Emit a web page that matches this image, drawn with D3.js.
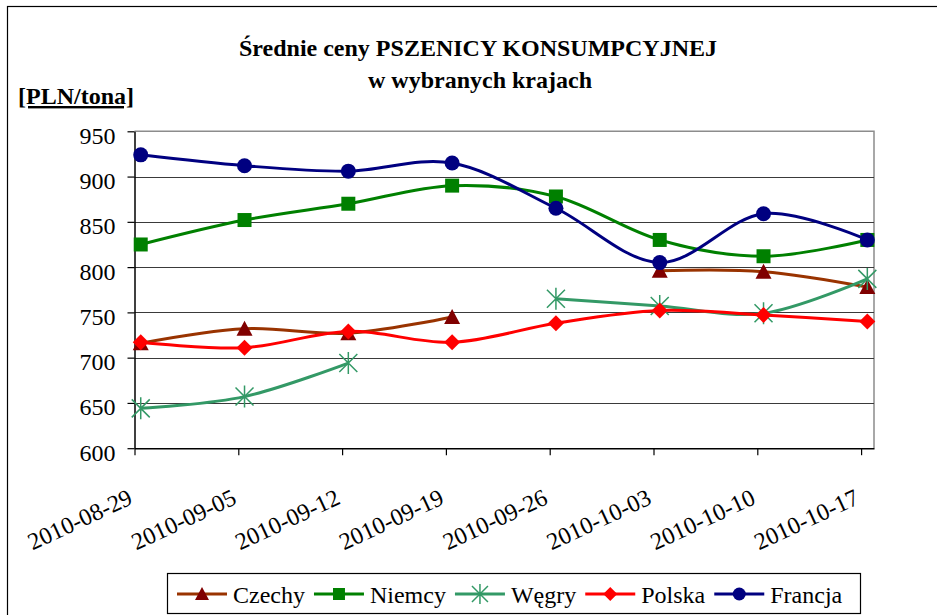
<!DOCTYPE html>
<html lang="pl">
<head>
<meta charset="utf-8">
<title>Średnie ceny pszenicy konsumpcyjnej</title>
<script src="https://cdn.jsdelivr.net/npm/d3@7"></script>
</head>
<body style="margin:0">
<div id="wheat-chart"></div>
<script>
// Weekly wheat prices, PLN per tonne (null = no quote that week)
const weekLabels = ["2010-08-29", "2010-09-05", "2010-09-12", "2010-09-19", "2010-09-26", "2010-10-03", "2010-10-10", "2010-10-17"];
const czechyPrices = [716, 732, 727, 745, null, 796, 795, 778];
const niemcyPrices = [825, 852, 870, 890, 878, 830, 812, 830];
const wegryPrices = [644, 657, 694, null, 765, 757, 749, 787];
const polskaPrices = [717, 711, 729, 717, 738, 752, 747, 740];
const francjaPrices = [924, 912, 906, 915, 865, 805, 859, 830];
const priceTicks = [600, 650, 700, 750, 800, 850, 900, 950];

const countries = [
  { name: "Czechy", values: czechyPrices, line: "#993300", fill: "#800000", marker: "triangle" },
  { name: "Niemcy", values: niemcyPrices, line: "#008000", fill: "#008000", marker: "square" },
  { name: "Węgry", values: wegryPrices, line: "#339966", fill: "#339966", marker: "star" },
  { name: "Polska", values: polskaPrices, line: "#ff0000", fill: "#ff0000", marker: "diamond" },
  { name: "Francja", values: francjaPrices, line: "#000080", fill: "#000080", marker: "circle" },
];

const serifFont = "Liberation Serif, Times New Roman, serif";
const W = 937, H = 615;
const area = { left: 134.5, right: 874, top: 131.3, bottom: 448.2 };
const step = 103.8;
const shift = 0.06; // points sit slightly right of the tick marks

const root = d3.select("#wheat-chart").append("svg")
  .attr("width", W).attr("height", H)
  .attr("font-family", serifFont);

// Outer frame
root.append("rect")
  .attr("x", 7.5).attr("y", 6.5)
  .attr("width", W + 20).attr("height", H + 20)
  .attr("fill", "none").attr("stroke", "#000").attr("stroke-width", 1.2);

const xs = d3.scaleLinear()
  .domain([0, (area.right - area.left) / step])
  .range([area.left, area.right]);
const ys = d3.scaleLinear().domain([600, 950]).range([area.bottom, area.top]);

// Plot border (top/right)
root.append("path")
  .attr("d", `M${area.left},${area.top}H${area.right}V${area.bottom}`)
  .attr("fill", "none").attr("stroke", "#8c8c8c").attr("stroke-width", 1.5);

// Gridlines
root.append("g")
  .selectAll("line")
  .data(priceTicks.filter((d) => d > 600 && d < 950))
  .join("line")
  .attr("x1", area.left).attr("x2", area.right)
  .attr("y1", (d) => Math.round(ys(d)) + 0.5).attr("y2", (d) => Math.round(ys(d)) + 0.5)
  .attr("stroke", "#3a3a3a").attr("stroke-width", 1);

// Y axis
const yAxisG = root.append("g")
  .attr("transform", `translate(${area.left},0)`)
  .call(d3.axisLeft(ys).tickValues(priceTicks).tickSize(7).tickPadding(12).tickSizeOuter(0))
  .attr("font-family", serifFont)
  .attr("font-size", 24);
yAxisG.select(".domain").attr("stroke", "#000").attr("stroke-width", 1.5);
yAxisG.selectAll(".tick line").attr("stroke", "#000").attr("stroke-width", 1.2);
yAxisG.selectAll(".tick text").attr("fill", "#000").attr("dy", "0.5em");

// X axis
const xAxisG = root.append("g")
  .attr("transform", `translate(0,${area.bottom})`)
  .call(d3.axisBottom(xs).tickValues(d3.range(weekLabels.length)).tickSize(7).tickSizeOuter(0).tickFormat((i) => weekLabels[i]))
  .attr("font-family", serifFont)
  .attr("font-size", 24);
xAxisG.select(".domain").attr("stroke", "#000").attr("stroke-width", 1.5);
xAxisG.selectAll(".tick line").attr("stroke", "#000").attr("stroke-width", 1.2);
xAxisG.selectAll(".tick text")
  .attr("fill", "#000")
  .attr("text-anchor", "end")
  .attr("x", null).attr("y", null).attr("dy", null)
  .attr("transform", "translate(-1,55) rotate(-25)");

// Series
const lineGen = d3.line()
  .defined((d) => d.v != null)
  .x((d) => xs(d.i + shift))
  .y((d) => ys(d.v))
  .curve(d3.curveCardinal.tension(0));

function symbolPath(type, s) {
  const h = s / 2;
  if (type === "triangle") return `M0,${-h - 1}L${h + 1},${h}L${-h - 1},${h}Z`;
  if (type === "square") return `M${-h},${-h}H${h}V${h}H${-h}Z`;
  if (type === "diamond") return `M0,${-h - 1}L${h + 1},0L0,${h + 1}L${-h - 1},0Z`;
  const r = h + 2;
  return `M${-r},${-r}L${r},${r}M${-r},${r}L${r},${-r}M0,${-r - 2}V${r + 2}`;
}

function addSymbol(g, c, size) {
  if (c.marker === "circle") {
    g.append("circle").attr("r", size / 2 + 0.5).attr("fill", c.fill);
  } else if (c.marker === "star") {
    g.append("path").attr("d", symbolPath("star", size))
      .attr("fill", "none").attr("stroke", c.fill).attr("stroke-width", 1.5);
  } else {
    g.append("path").attr("d", symbolPath(c.marker, size)).attr("fill", c.fill);
  }
}

countries.forEach((c) => {
  const pts = c.values.map((v, i) => ({ i, v }));
  const g = root.append("g");
  g.append("path")
    .attr("d", lineGen(pts))
    .attr("fill", "none").attr("stroke", c.line).attr("stroke-width", 3)
    .attr("stroke-linejoin", "round");
  pts.filter((d) => d.v != null).forEach((d) => {
    addSymbol(g.append("g").attr("transform", `translate(${xs(d.i + shift)},${ys(d.v)})`), c, 14);
  });
});

// Titles
root.append("text")
  .attr("x", 478).attr("y", 56)
  .attr("font-family", serifFont).attr("font-size", 24).attr("font-weight", "bold")
  .attr("text-anchor", "middle")
  .text("Średnie ceny PSZENICY KONSUMPCYJNEJ");
root.append("text")
  .attr("x", 480).attr("y", 88)
  .attr("font-family", serifFont).attr("font-size", 24).attr("font-weight", "bold")
  .attr("text-anchor", "middle")
  .text("w wybranych krajach");
root.append("text")
  .attr("x", 18).attr("y", 104)
  .attr("font-family", serifFont).attr("font-size", 24).attr("font-weight", "bold")
  .attr("text-decoration", "underline")
  .text("[PLN/tona]");

// Legend
const box = { x: 167, y: 573, w: 693, h: 40 };
root.append("rect")
  .attr("x", box.x + 0.5).attr("y", box.y + 0.5)
  .attr("width", box.w).attr("height", box.h)
  .attr("fill", "#fff").attr("stroke", "#000").attr("stroke-width", 1.2);
let cursor = box.x + 10;
countries.forEach((c) => {
  const item = root.append("g").attr("transform", `translate(${cursor},${box.y + 21})`);
  item.append("line").attr("x1", 0).attr("x2", 50)
    .attr("stroke", c.line).attr("stroke-width", 3);
  addSymbol(item.append("g").attr("transform", "translate(25,0)"), c, 12);
  const t = item.append("text")
    .attr("x", 56).attr("y", 9)
    .attr("font-family", serifFont).attr("font-size", 24)
    .text(c.name);
  cursor += 56 + t.node().getComputedTextLength() + 9;
});
</script>
</body>
</html>
